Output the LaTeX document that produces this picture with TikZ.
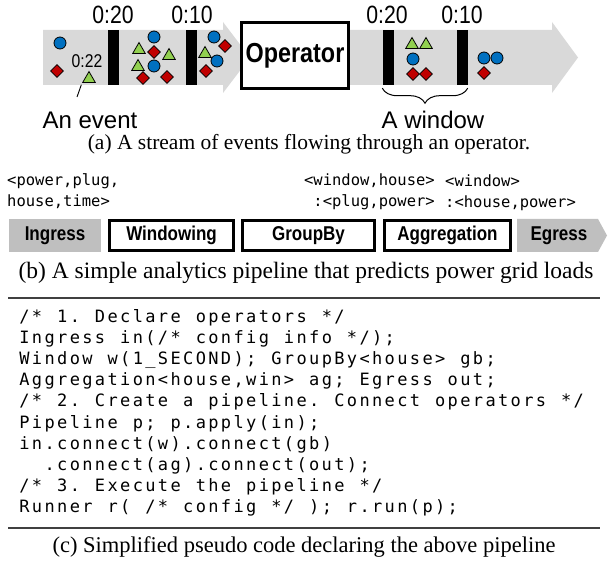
\documentclass[tikz,border=0pt]{standalone}
\usepackage{fontspec}
\setmainfont{Liberation Serif}
\newfontfamily\narsans[FakeStretch=0.85]{Liberation Sans}
\newfontfamily\plainsans{Liberation Sans}
\newfontfamily\monof{DejaVu Sans Mono}
\usetikzlibrary{decorations.pathreplacing,shapes.geometric}
\definecolor{bandgray}{HTML}{D9D9D9}
\definecolor{boxgray}{HTML}{BFBFBF}
\definecolor{evblue}{HTML}{0070C0}
\definecolor{evred}{HTML}{C00000}
\definecolor{evgreen}{HTML}{92D050}
\definecolor{rulegray}{HTML}{404040}
\ExplSyntaxOn
\NewDocumentCommand\codetext{m}{\str_map_inline:nn{#1}{\makebox[12.6pt][c]{##1}}}
\ExplSyntaxOff
\begin{document}
\begin{tikzpicture}[x=1pt,y=-1pt,
  evc/.style={circle,draw=black,fill=evblue,line width=0.8pt,inner sep=0pt,minimum size=12pt},
  evd/.style={diamond,draw=black,fill=evred,line width=0.8pt,inner sep=0pt,minimum size=13pt},
  evt/.style={regular polygon,regular polygon sides=3,draw=black,fill=evgreen,line width=0.8pt,inner sep=0pt,minimum size=14.5pt,yshift=-1.8pt},
  barbox/.style={fill=black,inner sep=0pt,minimum width=11pt,minimum height=55pt},
  tlabel/.style={font=\narsans\fontsize{25}{28}\selectfont,inner sep=0pt},
  biglabel/.style={font=\plainsans\fontsize{24}{27}\selectfont,inner sep=0pt},
  opbox/.style={draw=black,line width=3pt,fill=white,minimum width=107pt,minimum height=66.5pt,inner sep=0pt,font=\narsans\bfseries\fontsize{27.5}{30}\selectfont},
  caption/.style={inner sep=0pt},
  schema/.style={font=\monof\fontsize{15.5}{18}\selectfont,inner sep=0pt,text height=11pt,text depth=3pt},
  opstep/.style={draw=black,line width=3pt,minimum height=30pt,inner sep=0pt,font=\narsans\bfseries\fontsize{20}{22}\selectfont},
  endstep/.style={fill=boxgray,minimum height=33pt,inner sep=0pt,font=\narsans\bfseries\fontsize{20}{22}\selectfont},
  codeln/.style={font=\monof\fontsize{17}{19}\selectfont,inner sep=0pt,anchor=west,text height=12.5pt,text depth=3.5pt},
  rulel/.style={draw=rulegray,line width=1.3pt}
]
\useasboundingbox (0,0) rectangle (608,564);

% ---- (a) stream ----
\fill[bandgray] (43,30) -- (223,30) -- (223,22) -- (250,57.5) -- (223,93) -- (223,85) -- (43,85) -- cycle;
\fill[bandgray] (345,30) -- (552,30) -- (552,22) -- (578,57.5) -- (552,93) -- (552,85) -- (345,85) -- cycle;

\node[barbox] (b1) at (113.5,57.5) {};
\node[barbox] (b2) at (191.5,57.5) {};
\node[barbox] (b3) at (388,57.5) {};
\node[barbox] (b4) at (462,57.5) {};

\node[tlabel] (t1) at (113,15) {0:20};
\node[tlabel] (t2) at (192,15) {0:10};
\node[tlabel] (t3) at (387,15) {0:20};
\node[tlabel] (t4) at (462,15) {0:10};

\node[opbox] (op) at (295,55.3) {Operator};

% segment 1
\node[evc] (s1c) at (60,43) {};
\node[evd] (s1d) at (57,71) {};
\node[font=\narsans\fontsize{18.5}{20}\selectfont,inner sep=0pt] (ts) at (87,61) {0:22};
\node[evt] (ev) at (89,77) {};
% segment 2
\node[evc] (s2c1) at (154,37) {};
\node[evt] (s2t1) at (139,48) {};
\node[evd] (s2d1) at (154,52) {};
\node[evt] (s2t2) at (169,54) {};
\node[evt] (s2t3) at (138,65) {};
\node[evc] (s2c2) at (154,66) {};
\node[evd] (s2d2) at (143,78) {};
\node[evd] (s2d3) at (167,77) {};
% segment 3
\node[evc] (s3c1) at (214,37) {};
\node[evd] (s3d1) at (225,46) {};
\node[evt] (s3t1) at (205,52) {};
\node[evc] (s3c2) at (217,61) {};
\node[evd] (s3d2) at (206,71) {};
% segment 4
\node[evt] (s4t1) at (412,43) {};
\node[evt] (s4t2) at (426,43) {};
\node[evc] (s4c1) at (413,59) {};
\node[evd] (s4d1) at (413,74) {};
\node[evd] (s4d2) at (426,74) {};
% segment 5
\node[evc] (s5c1) at (484,58) {};
\node[evc] (s5c2) at (497,58) {};
\node[evd] (s5d1) at (484,73) {};

\node[biglabel] (evlab) at (90,120) {An event};
\coordinate (evtail) at (77,97);
\draw[line width=0.9pt,shorten <=2pt] (ev.corner 2) -- (evtail);

\coordinate (brl) at ([yshift=-3pt]b3.south west);
\coordinate (brr) at ([yshift=-3pt]b4.south east);
\draw[line width=1pt,decorate,decoration={brace,mirror,amplitude=15pt}] (brl) -- (brr);
\node[biglabel] (winlab) at (433,120) {A window};

\node[caption,font=\fontsize{21.5}{24}\selectfont] (capa) at (309,144) {(a) A stream of events flowing through an operator.};

% ---- (b) pipeline ----
\node[schema,anchor=west] (sa1) at (7,182) {<power,plug,};
\node[schema,anchor=west] (sa2) at (7,203) {house,time>};
\node[schema,anchor=east] (sb1) at (435,182) {<window,house>};
\node[schema,anchor=east] (sb2) at (435,203) {:<plug,power>};
\node[schema,anchor=west] (sc1) at (445,183) {<window>};
\node[schema,anchor=west] (sc2) at (445,204) {:<house,power>};

\node[endstep,minimum width=92pt] (ing) at (55,235.5) {Ingress};
\node[opstep,minimum width=124pt] (win) at (171.5,235.5) {Windowing};
\node[opstep,minimum width=132pt] (grp) at (308.5,235.5) {GroupBy};
\node[opstep,minimum width=126pt] (agg) at (447.5,235.5) {Aggregation};
\fill[boxgray] (517,219) -- (598,219) -- (607,235.5) -- (598,252) -- (517,252) -- cycle;
\node[inner sep=0pt,font=\narsans\bfseries\fontsize{20}{22}\selectfont] (egr) at (559,235.5) {Egress};

\node[caption,font=\fontsize{23.5}{26}\selectfont] (capb) at (306,273) {(b) A simple analytics pipeline that predicts power grid loads};

% ---- (c) code ----
\draw[rulel] (8,298) -- (600,298);
\node[codeln] (c1) at (18,318) {\codetext{/* 1. Declare operators */}};
\node[codeln] (c2) at (18,339.1) {\codetext{Ingress in(/* config info */);}};
\node[codeln] (c3) at (18,360.2) {\codetext{Window w(1_SECOND); GroupBy<house> gb;}};
\node[codeln] (c4) at (18,381.3) {\codetext{Aggregation<house,win> ag; Egress out;}};
\node[codeln] (c5) at (18,402.4) {\codetext{/* 2. Create a pipeline. Connect operators */}};
\node[codeln] (c6) at (18,423.5) {\codetext{Pipeline p; p.apply(in);}};
\node[codeln] (c7) at (18,444.6) {\codetext{in.connect(w).connect(gb)}};
\node[codeln] (c8) at (43.2,465.7) {\codetext{.connect(ag).connect(out);}};
\node[codeln] (c9) at (18,486.8) {\codetext{/* 3. Execute the pipeline */}};
\node[codeln] (c10) at (18,507.9) {\codetext{Runner r( /* config */ ); r.run(p);}};
\draw[rulel] (8,528) -- (600,528);

\node[caption,font=\fontsize{22.5}{25}\selectfont] (capc) at (304,547) {(c) Simplified pseudo code declaring the above pipeline};
\end{tikzpicture}
\end{document}
